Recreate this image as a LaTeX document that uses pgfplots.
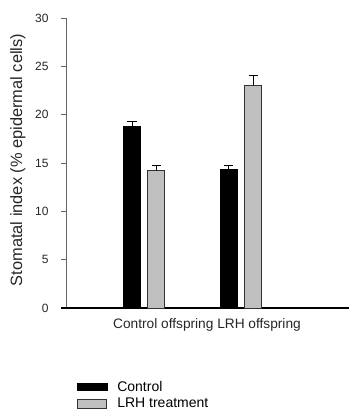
\documentclass[border=0pt]{standalone}
\usepackage{pgfplots}
\pgfplotsset{compat=1.18}
\usepackage{fontspec}
\setmainfont{Liberation Sans}
\definecolor{bargray}{RGB}{192,192,192}
\definecolor{axgray}{RGB}{100,100,100}
\begin{document}
\begin{tikzpicture}
\useasboundingbox (-67bp,-101bp) rectangle (283bp,308bp);
\begin{axis}[
  at={(0,0)}, anchor=south west,
  scale only axis, width=282bp, height=290bp,
  xmin=0, xmax=282, ymin=0, ymax=30,
  axis x line*=bottom, axis y line*=left,
  x axis line style={black, line width=1.6bp, -},
  y axis line style={axgray, line width=1bp, -},
  ytick={0,5,...,30},
  tick align=outside, major tick length=6bp,
  ytick style={axgray, line width=0.9bp},
  xtick={140}, xticklabels={Control offspring LRH offspring},
  xtick style={draw=none},
  xticklabel style={font=\fontsize{13.7bp}{16bp}\selectfont, color=black!85, yshift=-1bp},
  yticklabel style={font=\fontsize{12bp}{14bp}\selectfont, color=black!85, xshift=-9bp},
  /pgf/number format/assume math mode=true,
  ylabel={Stomatal index (\% epidermal cells)},
  ylabel style={at={(axis description cs:-0.1738,0.5103)}, anchor=center, font=\fontsize{16.4bp}{18bp}\selectfont, color=black!85},
  clip=false,
  legend style={at={(axis description cs:0.0344,-0.245)}, anchor=north west, draw=none, fill=none,
    font=\fontsize{14bp}{16bp}\selectfont, inner sep=0pt, row sep=1bp},
  legend cell align=left,
  error bars/y dir=plus, error bars/y explicit,
  error bars/error mark options={rotate=90, mark size=4.5bp, line width=1bp, black},
  error bars/error bar style={line width=1bp, black},
]
\addlegendimage{legend image code/.code={\fill[black] (0bp,-3.4bp) rectangle (29.5bp,3.4bp); \path[draw=none,fill=none] (0bp,0bp) -- (38bp,0bp);}}
\addlegendentry{Control}
\addlegendimage{legend image code/.code={\filldraw[fill=bargray, draw=black!80, line width=0.8bp] (0bp,-4.5bp) rectangle (29.5bp,4.5bp); \path[draw=none,fill=none] (0bp,0bp) -- (36bp,0bp);}}
\addlegendentry{LRH treatment}
\addplot[ybar, bar width=17, bar shift=0pt, fill=black, draw=black, line width=0.6bp, forget plot]
  coordinates {(65,18.8) +- (0,0.47) (161.7,14.3) +- (0,0.49)};
\addplot[ybar, bar width=17, bar shift=0pt, fill=bargray, draw=black!80, line width=0.9bp, forget plot]
  coordinates {(89.3,14.2) +- (0,0.49) (186,23.04) +- (0,1.0)};
\draw[black, line width=1.6bp] (axis cs:0,0) ++(-6bp,0) -- (axis cs:0,0);
\end{axis}
\end{tikzpicture}
\end{document}
